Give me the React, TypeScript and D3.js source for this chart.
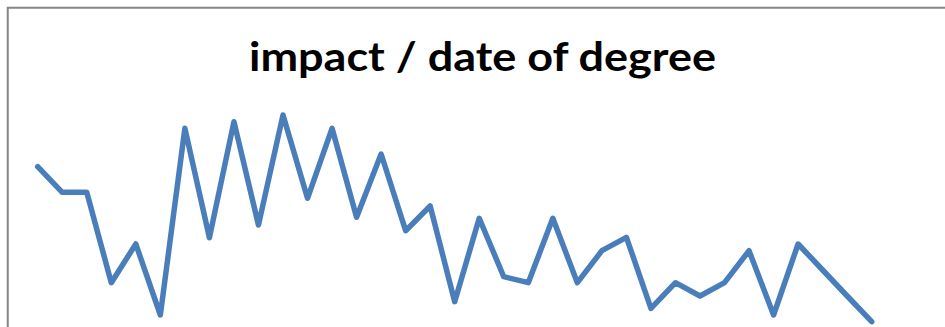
import React from "react";
import * as d3 from "d3";

// Impact value per ordered position along the "date of degree" axis
const positions: number[] = Array.from({ length: 35 }, (_, i) => i);
const impact: number[] = [
  17.33, 14.77, 14.77, 5.73, 9.6, 2.5, 21.17, 10.23, 21.83, 11.5,
  22.5, 14.17, 21.17, 12.27, 18.6, 10.93, 13.4, 3.83, 12.17, 6.33,
  5.73, 12.17, 5.73, 8.93, 10.27, 3.17, 5.73, 4.4, 5.73, 8.93,
  2.5, 9.6, 7.0, 4.4, 1.83,
];
const title = "impact / date of degree";

const W = 945;
const H = 327;

export default function App() {
  const x = d3
    .scaleLinear()
    .domain([0, positions.length - 1])
    .range([37.7, 871.7]);
  const y = d3.scaleLinear().domain([0, 25]).range([340, 90]);

  const line = d3
    .line<number>()
    .x((_, i) => x(positions[i]))
    .y((d) => y(d));

  return (
    <div style={{ position: "absolute", left: 0, top: 0 }}>
      <svg width={W} height={H} style={{ display: "block" }}>
        <rect x={0} y={0} width={W} height={H} fill="#ffffff" />
        <rect
          x={7.75}
          y={7.75}
          width={W + 40}
          height={H + 40}
          fill="#ffffff"
          stroke="#868686"
          strokeWidth={2}
        />
        <text
          x={482.5}
          y={71}
          textAnchor="middle"
          fontFamily="Lato, 'Open Sans', sans-serif"
          fontWeight="bold"
          fontSize={41}
          fill="#000000"
          textLength={467}
          lengthAdjust="spacingAndGlyphs"
        >
          {title}
        </text>
        <path
          d={line(impact) ?? ""}
          fill="none"
          stroke="#4a7ebb"
          strokeWidth={5.5}
          strokeLinejoin="round"
          strokeLinecap="round"
        />
      </svg>
    </div>
  );
}
